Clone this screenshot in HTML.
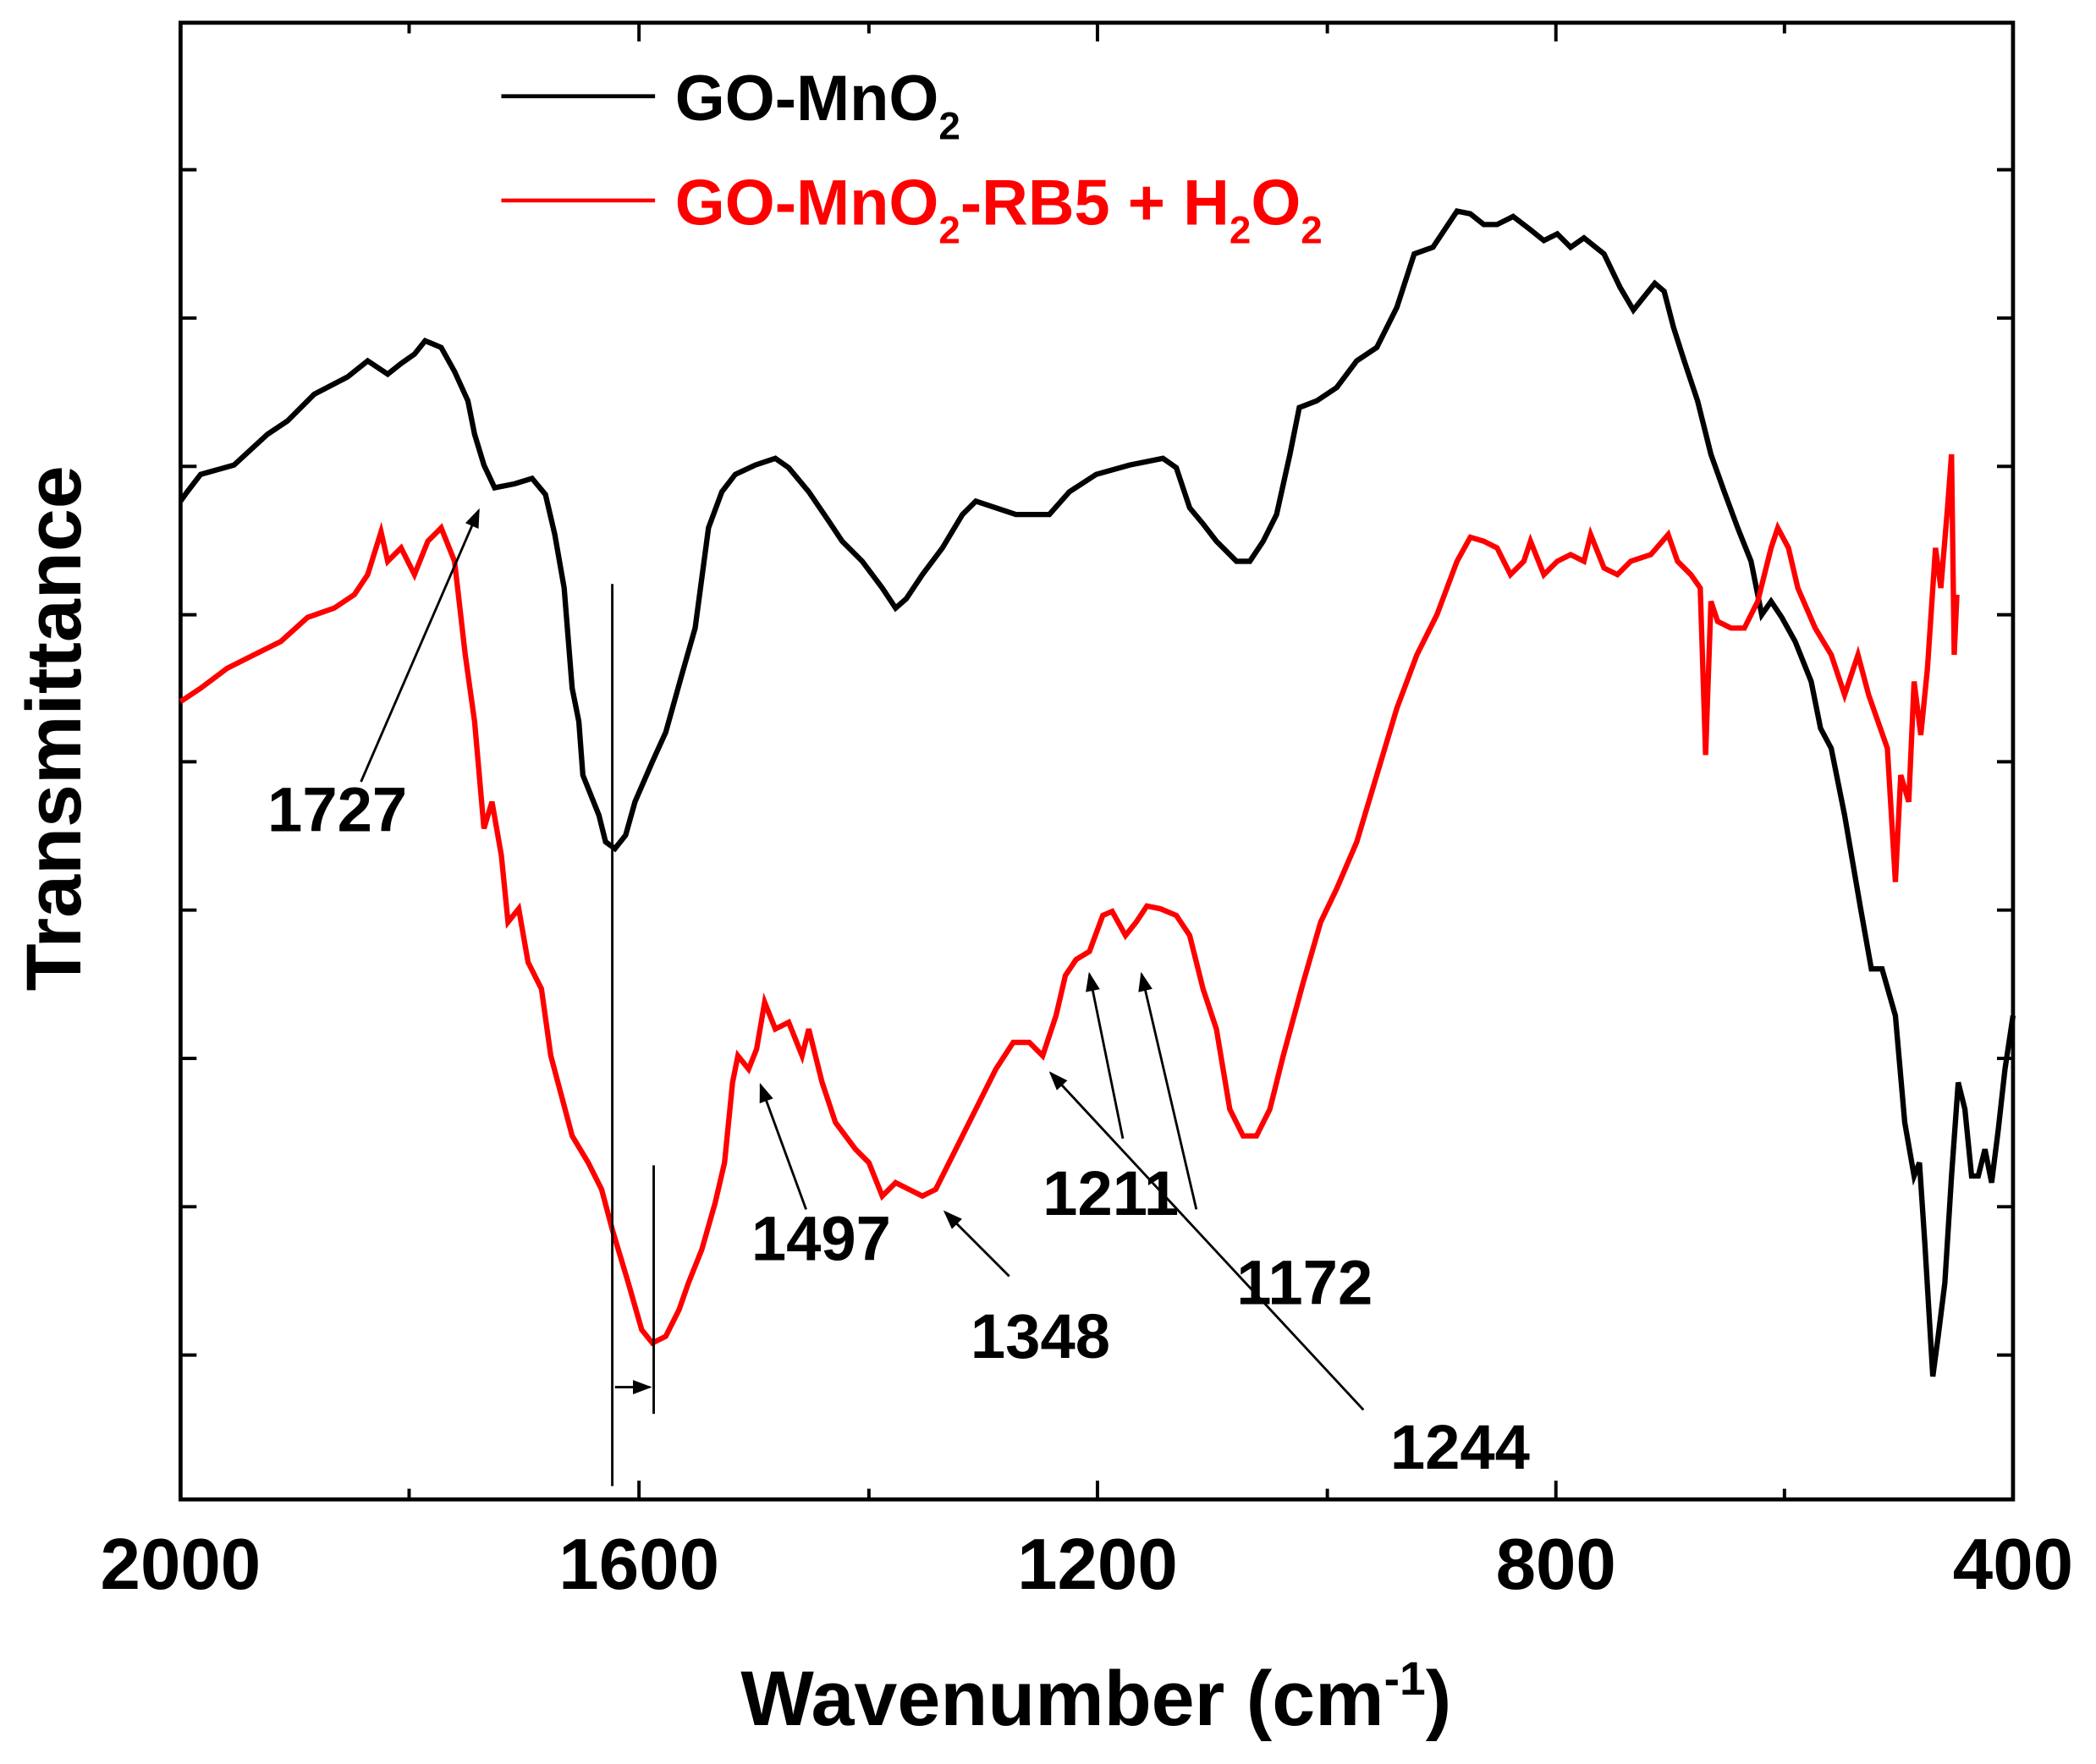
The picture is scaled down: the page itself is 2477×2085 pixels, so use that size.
<!DOCTYPE html>
<html><head><style>html,body{margin:0;padding:0;background:#fff}svg{display:block}</style></head><body>
<svg width="2477" height="2085" viewBox="0 0 1568 1320" xmlns="http://www.w3.org/2000/svg" font-family="Liberation Sans, Arial, sans-serif" font-weight="bold">
<rect x="135" y="17" width="1371" height="1105" fill="none" stroke="#000" stroke-width="3"/>
<g stroke="#000" stroke-width="2.5">
<path d="M135,1122v-14M306,1122v-8M478,1122v-14M650,1122v-8M821,1122v-14M993,1122v-8M1164,1122v-14M1335,1122v-8M1506,1122v-14"/>
<path d="M135,17v14M306,17v8M478,17v14M650,17v8M821,17v14M993,17v8M1164,17v14M1335,17v8"/>
<path d="M135,127h12M135,238h12M135,349h12M135,460h12M135,570h12M135,681h12M135,792h12M135,903h12M135,1014h12"/>
<path d="M1506,127h-12M1506,238h-12M1506,349h-12M1506,460h-12M1506,570h-12M1506,681h-12M1506,792h-12M1506,903h-12M1506,1014h-12"/>
</g>
<g font-size="54" text-anchor="middle">
<text x="135" y="1189">2000</text><text x="478" y="1189">1600</text><text x="821" y="1189">1200</text><text x="1164" y="1189">800</text><text x="1506" y="1189">400</text>
</g>
<text x="820" y="1291" font-size="58" text-anchor="middle">Wavenumber (cm<tspan font-size="35" dy="-23">-1</tspan><tspan dy="23">)</tspan></text>
<text transform="translate(60,545) rotate(-90)" font-size="58" text-anchor="middle">Transmittance</text>
<polyline fill="none" stroke="#000" stroke-width="4" points="135,375 140,368 150,355 175,348 200,325 215,315 235,295 260,282 275,270 290,280 300,272 310,265 318,255 330,260 340,278 350,300 355,325 362,348 370,365 385,362 398,358 408,370 415,400 422,440 428,515 433,540 436,580 448,610 453,630 460,635 468,625 475,600 488,570 498,548 510,505 520,470 530,395 540,368 550,355 565,348 580,343 590,350 605,368 620,390 630,405 645,420 660,440 670,455 678,448 690,430 705,410 720,385 730,375 745,380 760,385 785,385 800,368 820,355 845,348 870,343 880,350 890,380 900,392 910,405 925,420 935,420 945,405 955,385 965,340 972,305 985,300 1000,290 1015,270 1030,260 1045,230 1058,190 1072,185 1090,158 1100,160 1110,168 1120,168 1132,162 1145,172 1155,180 1165,175 1175,185 1185,178 1200,190 1212,215 1222,232 1230,222 1238,212 1245,218 1252,245 1260,270 1270,300 1280,340 1290,368 1300,395 1310,420 1318,460 1325,450 1333,462 1343,480 1355,510 1362,545 1370,560 1380,610 1392,680 1400,725 1408,725 1418,760 1425,840 1432,880 1436,870 1440,930 1446,1030 1450,1000 1455,960 1460,880 1465,810 1470,830 1475,880 1480,880 1485,860 1490,885 1495,845 1500,800 1506,760"/>
<polyline fill="none" stroke="#f00" stroke-width="4" points="135,525 150,515 170,500 190,490 210,480 230,462 250,455 265,445 275,430 285,398 290,420 300,410 310,430 320,405 330,395 340,420 348,490 355,540 362,620 368,600 375,640 380,690 388,680 395,720 405,740 412,790 420,820 428,850 440,870 450,890 458,920 470,960 480,995 488,1005 498,1000 508,980 515,960 525,935 535,900 542,870 548,810 552,790 560,800 566,785 572,750 580,770 590,765 600,790 605,770 615,810 625,840 640,860 650,870 660,895 670,885 680,890 690,895 700,890 715,860 730,830 745,800 758,780 770,780 780,790 790,760 797,730 805,718 815,712 825,685 832,682 842,700 850,690 858,678 868,680 880,685 890,700 900,740 910,770 920,830 930,850 940,850 950,830 960,790 975,735 988,690 1000,665 1015,630 1030,580 1045,530 1060,490 1075,460 1090,420 1100,402 1110,405 1120,410 1130,430 1140,420 1145,405 1155,430 1165,420 1175,415 1185,420 1190,400 1200,425 1210,430 1220,420 1235,415 1248,400 1255,420 1265,430 1272,440 1276,565 1280,450 1285,465 1295,470 1305,470 1315,450 1325,410 1330,395 1338,410 1345,440 1358,470 1370,490 1380,520 1390,490 1398,520 1405,540 1412,560 1418,660 1422,580 1428,600 1432,510 1437,550 1442,500 1448,410 1452,440 1457,380 1460,340 1462,490 1464,445"/>
<defs><marker id="a" markerWidth="8" markerHeight="6" refX="7" refY="3" orient="auto"><path d="M0,0L8,3L0,6z" fill="#000"/></marker></defs>
<g stroke="#000" stroke-width="1.8" marker-end="url(#a)">
<line x1="270" y1="585" x2="358" y2="382"/>
<line x1="603" y1="905" x2="569" y2="812"/>
<line x1="755" y1="955" x2="707" y2="907"/>
<line x1="840" y1="852" x2="815" y2="729"/>
<line x1="895" y1="905" x2="854" y2="729"/>
<line x1="1020" y1="1055" x2="786" y2="803"/>
<line x1="460" y1="1038" x2="486" y2="1038"/>
</g>
<g stroke="#000" stroke-width="1.8"><line x1="458" y1="437" x2="458" y2="1112"/><line x1="489" y1="872" x2="489" y2="1058"/></g>
<g font-size="47">
<text x="200" y="622">1727</text><text x="562" y="943">1497</text><text x="726" y="1016">1348</text><text x="780" y="909">1211</text><text x="925" y="976">1172</text><text x="1040" y="1099">1244</text>
</g>
<line x1="375" y1="72" x2="490" y2="72" stroke="#000" stroke-width="3"/>
<text x="505" y="90" font-size="48">GO-MnO<tspan font-size="29" dy="14">2</tspan></text>
<line x1="375" y1="150" x2="490" y2="150" stroke="#f00" stroke-width="3"/>
<text x="505" y="168" font-size="48" fill="#f00">GO-MnO<tspan font-size="29" dy="14">2</tspan><tspan dy="-14">-RB5 + H</tspan><tspan font-size="29" dy="14">2</tspan><tspan dy="-14">O</tspan><tspan font-size="29" dy="14">2</tspan></text>
</svg>
</body></html>
